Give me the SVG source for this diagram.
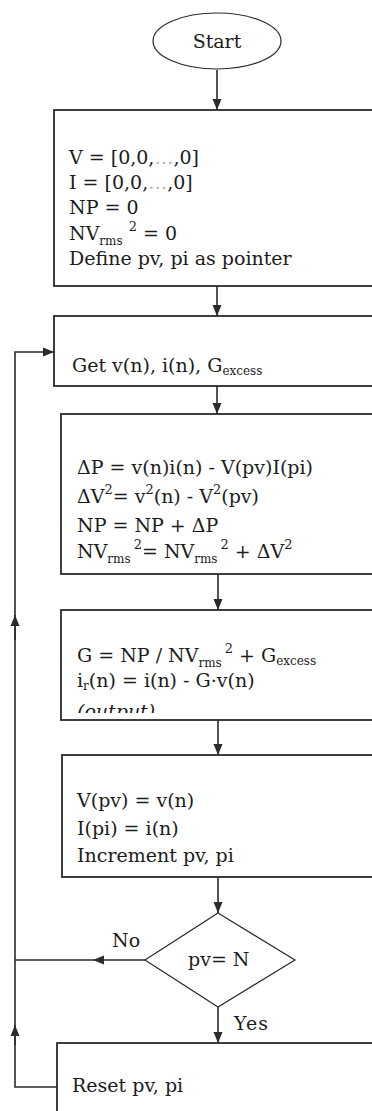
<svg xmlns="http://www.w3.org/2000/svg" width="372" height="1111" viewBox="0 0 372 1111">
<style>
text { font-family: "DejaVu Serif", "Liberation Serif", serif; font-size: 19px; fill: #1c1c1c; }
.box { fill: #ffffff; stroke: #2a2a2a; stroke-width: 1.8; }
.ln { fill: none; stroke: #2a2a2a; stroke-width: 1.6; }
.thin { fill: none; stroke: #2a2a2a; stroke-width: 1.2; }
.s { font-size: 12px; }
.p { font-size: 13px; }
.dots { fill: #b4b4b4; }
</style>
<defs>
<marker id="ah" markerUnits="userSpaceOnUse" markerWidth="11" markerHeight="10" viewBox="0 0 11 10" refX="11" refY="5" orient="auto"><path d="M0,0.5 L11,5 L0,9.5 z" fill="#2a2a2a"/></marker>
<clipPath id="c4"><rect x="61" y="610" width="320" height="103"/></clipPath>
</defs>

<g id="start">
<ellipse cx="217" cy="41" rx="64" ry="28" class="thin" fill="#fff"/>
<text x="217" y="48" text-anchor="middle">Start</text>
</g>

<g id="init">
<rect x="54" y="110" width="330" height="176" class="box"/>
<text x="69" y="164">V = [0,0,<tspan class="dots">…</tspan>,0]</text>
<text x="69" y="189">I = [0,0,<tspan class="dots">…</tspan>,0]</text>
<text x="69" y="214">NP = 0</text>
<text x="69" y="240">NV<tspan class="s" dy="5">rms</tspan><tspan class="p" dx="6" dy="-14">2</tspan><tspan dy="9"> = 0</tspan></text>
<text x="69" y="265">Define pv, pi as pointer</text>
</g>

<g id="get">
<rect x="54" y="316" width="330" height="70" class="box"/>
<text x="72" y="372">Get v(n), i(n), G<tspan class="s" dy="3">excess</tspan></text>
</g>

<g id="update">
<rect x="61" y="414" width="330" height="160" class="box"/>
<text x="77" y="474">ΔP = v(n)i(n) - V(pv)I(pi)</text>
<text x="77" y="503">ΔV<tspan class="p" dy="-9">2</tspan><tspan dy="9">= v</tspan><tspan class="p" dy="-9">2</tspan><tspan dy="9">(n) - V</tspan><tspan class="p" dy="-9">2</tspan><tspan dy="9">(pv)</tspan></text>
<text x="77" y="532">NP = NP + ΔP</text>
<text x="77" y="558">NV<tspan class="s" dy="5">rms</tspan><tspan class="p" dx="3" dy="-14">2</tspan><tspan dy="9">= NV</tspan><tspan class="s" dy="5">rms</tspan><tspan class="p" dx="3" dy="-14">2</tspan><tspan dy="9"> + ΔV</tspan><tspan class="p" dy="-9">2</tspan></text>
</g>

<g id="compute">
<rect x="61" y="610" width="330" height="110" class="box"/>
<text x="77" y="662">G = NP / NV<tspan class="s" dy="5">rms</tspan><tspan class="p" dx="3" dy="-14">2</tspan><tspan dy="9"> + G</tspan><tspan class="s" dy="3">excess</tspan></text>
<text x="77" y="687">i<tspan class="s" dy="3">r</tspan><tspan dy="-3">(n) = i(n) - G·v(n)</tspan></text>
<text x="77" y="718" font-style="italic" clip-path="url(#c4)" font-size="17">(output)</text>
</g>

<g id="store">
<rect x="62" y="755" width="330" height="122" class="box"/>
<text x="77" y="807">V(pv) = v(n)</text>
<text x="77" y="835">I(pi) = i(n)</text>
<text x="77" y="862">Increment pv, pi</text>
</g>

<g id="decision">
<polygon points="218,913 295,960 218,1007 145,960" class="thin" fill="#fff"/>
<text x="188" y="966" font-size="14">pv= N</text>
</g>

<g id="reset">
<rect x="57" y="1043" width="330" height="80" class="box"/>
<text x="72" y="1092">Reset pv, pi</text>
</g>

<g id="connectors">
<path d="M217,70 L217,110" class="ln" marker-end="url(#ah)"/>
<path d="M217,286 L217,316" class="ln" marker-end="url(#ah)"/>
<path d="M217,386 L217,414" class="ln" marker-end="url(#ah)"/>
<path d="M218,574 L218,610" class="ln" marker-end="url(#ah)"/>
<path d="M218,720 L218,755" class="ln" marker-end="url(#ah)"/>
<path d="M218,877 L218,913" class="ln" marker-end="url(#ah)"/>
<path d="M218,1007 L218,1043" class="ln" marker-end="url(#ah)"/>
<path d="M145,960 L93,960" class="ln" stroke-width="2.6" marker-end="url(#ah)"/>
<path d="M93,960 L15,960" class="ln"/>
<path d="M57,1087 L15,1087 L15,352 L54,352" class="ln" marker-end="url(#ah)"/>
<path d="M15,1045 L15,1025" class="ln" marker-end="url(#ah)"/>
<path d="M15,640 L15,615" class="ln" marker-end="url(#ah)"/>
<text x="112" y="947">No</text>
<text x="234" y="1030" letter-spacing="1">Yes</text>
</g>
</svg>
